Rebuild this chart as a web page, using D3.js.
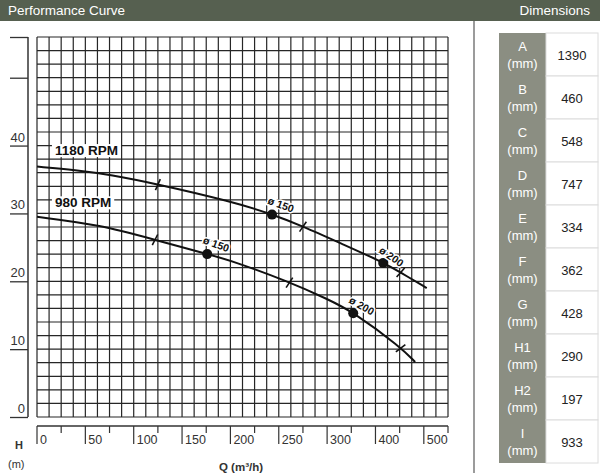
<!DOCTYPE html>
<html>
<head>
<meta charset="utf-8">
<script src="https://cdn.jsdelivr.net/npm/d3@7"></script>
<style>
  body { margin: 0; background: #fff; font-family: "Liberation Sans", Arial, sans-serif; }
  svg { display: block; }
</style>
</head>
<body>
<div id="chart"></div>
<script>
  // x values are grid positions (the printed axis jumps 300 -> 400 -> 500)
  const xTickValues = [0, 50, 100, 150, 200, 250, 300, 350, 400];
  const xTickLabels = ["0", "50", "100", "150", "200", "250", "300", "400", "500"];
  const yTickValues = [0, 10, 20, 30, 40];

  const rpm1180 = [[0, 36.9], [40, 36.4], [76, 35.7], [125, 34.3], [200, 31.8], [243, 29.9],
                   [275, 28.1], [314, 25.6], [358, 22.8], [376, 21.3], [403, 19.0]];
  const rpm980 = [[0, 29.5], [66, 28.3], [122, 26.1], [176, 24.0], [200, 23.1], [261, 19.9],
                  [300, 17.4], [327, 15.5], [376, 10.3], [391, 8.1]];

  const curveNames = ["1180 RPM", "980 RPM"];
  // points marked with a dot and an impeller diameter label
  const dots1180 = [[243, 29.9, "ø 150"], [358, 22.8, "ø 200"]];
  const dots980 = [[176, 24.0, "ø 150"], [327, 15.5, "ø 200"]];
  // short cross ticks along the curves
  const ticks1180 = [125, 275, 376];
  const ticks980 = [122, 261, 376];

  const dimNames = ["A", "B", "C", "D", "E", "F", "G", "H1", "H2", "I"];
  const dimValues = [1390, 460, 548, 747, 334, 362, 428, 290, 197, 933];

  function draw() {
    const W = 600, H = 473;
    const svg = d3.select("#chart").append("svg").attr("width", W).attr("height", H);

    // header band
    svg.append("rect").attr("x", 0).attr("y", 0).attr("width", W).attr("height", 21).attr("fill", "#566050");
    svg.append("text").attr("x", 8).attr("y", 15).attr("fill", "#fff").attr("font-size", 13.5)
      .text("Performance Curve");
    svg.append("text").attr("x", 590).attr("y", 15).attr("fill", "#fff").attr("font-size", 13.5)
      .attr("text-anchor", "end").text("Dimensions");
    svg.append("line").attr("x1", 474).attr("x2", 474).attr("y1", 21).attr("y2", H)
      .attr("stroke", "#7a7a7a").attr("stroke-width", 1.5);

    const x = d3.scaleLinear().domain([0, 425]).range([37, 448]);
    const y = d3.scaleLinear().domain([0, 56]).range([417, 37]);

    // grid
    const grid = svg.append("g").attr("stroke", "#262626").attr("stroke-width", 1.2);
    grid.selectAll("line.v").data(d3.range(0, 425.1, 12.5)).join("line").attr("class", "v")
      .attr("x1", d => x(d)).attr("x2", d => x(d)).attr("y1", y(56)).attr("y2", y(0));
    grid.selectAll("line.h").data(d3.range(0, 56.1, 2)).join("line").attr("class", "h")
      .attr("x1", x(0)).attr("x2", x(425)).attr("y1", d => y(d)).attr("y2", d => y(d));

    // left axis
    const yAxis = d3.axisLeft(y).tickValues([0, 10, 20, 30, 40, 50, 56]).tickSize(18).tickFormat("");
    const ya = svg.append("g").attr("transform", "translate(28,0)").call(yAxis);
    ya.select(".domain").remove();
    ya.selectAll(".tick line").attr("stroke", "#333").attr("stroke-width", 1.3);
    svg.append("line").attr("x1", 28).attr("x2", 28).attr("y1", y(56)).attr("y2", y(0))
      .attr("stroke", "#333").attr("stroke-width", 1.5);
    svg.append("g").selectAll("text").data(yTickValues).join("text")
      .attr("x", 25).attr("y", d => y(d) - 4).attr("text-anchor", "end")
      .attr("font-size", 13).attr("fill", "#333").text(d => d);

    // bottom axis
    const xa = svg.append("g").attr("transform", "translate(0,426)");
    xa.append("line").attr("x1", x(0)).attr("x2", x(425)).attr("stroke", "#333").attr("stroke-width", 1.3);
    xa.selectAll("line.major").data(xTickValues).join("line").attr("class", "major")
      .attr("x1", d => x(d)).attr("x2", d => x(d)).attr("y1", 0).attr("y2", 18)
      .attr("stroke", "#333").attr("stroke-width", 1.2);
    xa.selectAll("line.minor").data(d3.range(25, 426, 50)).join("line").attr("class", "minor")
      .attr("x1", d => x(d)).attr("x2", d => x(d)).attr("y1", 0).attr("y2", 7)
      .attr("stroke", "#333").attr("stroke-width", 1.2);
    xa.selectAll("text").data(xTickValues).join("text")
      .attr("x", d => x(d) + 3).attr("y", 18).attr("font-size", 12.5).attr("fill", "#333")
      .text((d, i) => xTickLabels[i]);

    svg.append("text").attr("x", 15).attr("y", 449).attr("font-size", 11).attr("font-weight", "bold")
      .attr("fill", "#333").text("H");
    svg.append("text").attr("x", 8).attr("y", 468).attr("font-size", 11).attr("fill", "#333").text("(m)");
    svg.append("text").attr("x", 241).attr("y", 471).attr("font-size", 11.5).attr("font-weight", "bold")
      .attr("text-anchor", "middle").attr("fill", "#333").text("Q (m³/h)");

    // curves
    const line = d3.line().x(d => x(d[0])).y(d => y(d[1])).curve(d3.curveBasis);
    const curves = [rpm1180, rpm980];
    const curveTicks = [ticks1180, ticks980];
    const curveDots = [dots1180, dots980];
    const labelRot = [[20, 35], [20, 30]];

    curves.forEach((data, ci) => {
      const path = svg.append("path").datum(data).attr("d", line)
        .attr("fill", "none").attr("stroke", "#111").attr("stroke-width", 2);
      const node = path.node();
      const len = node.getTotalLength();
      // find point on path for a given x position
      function pointAt(q) {
        const px = x(q);
        let lo = 0, hi = len;
        for (let k = 0; k < 30; k++) {
          const mid = (lo + hi) / 2;
          if (node.getPointAtLength(mid).x < px) lo = mid; else hi = mid;
        }
        const p = node.getPointAtLength(lo);
        const p2 = node.getPointAtLength(Math.min(len, lo + 2));
        return { x: p.x, y: p.y, a: Math.atan2(p2.y - p.y, p2.x - p.x) };
      }
      curveTicks[ci].forEach(q => {
        const p = pointAt(q);
        const n = p.a + Math.PI / 2 + 0.2;
        svg.append("line")
          .attr("x1", p.x - 6 * Math.cos(n)).attr("y1", p.y - 6 * Math.sin(n))
          .attr("x2", p.x + 6 * Math.cos(n)).attr("y2", p.y + 6 * Math.sin(n))
          .attr("stroke", "#111").attr("stroke-width", 1.6);
      });
      curveDots[ci].forEach((d, j) => {
        const p = pointAt(d[0]);
        svg.append("circle").attr("cx", p.x).attr("cy", p.y).attr("r", 5).attr("fill", "#111");
        svg.append("text")
          .attr("transform", `translate(${p.x - 5},${p.y - 11}) rotate(${labelRot[ci][j]})`)
          .attr("font-size", 10.5).attr("font-weight", "bold").attr("fill", "#111")
          .attr("stroke", "#fff").attr("stroke-width", 3).attr("paint-order", "stroke")
          .text(d[2]);
      });
    });

    // RPM labels with white boxes
    const rpmPos = [[2, 38.6], [2, 30.9]];
    curveNames.forEach((name, i) => {
      const t = svg.append("text").attr("x", x(rpmPos[i][0]) + 16).attr("y", y(rpmPos[i][1]))
        .attr("font-size", 13.5).attr("font-weight", "bold").attr("fill", "#111").text(name);
      const b = t.node().getBBox();
      svg.append("rect")
        .attr("x", b.x - 3).attr("y", b.y + 1).attr("width", b.width + 6).attr("height", b.height - 2)
        .attr("fill", "#fff");
      t.raise();
    });

    // dimensions table
    const tbl = svg.append("g");
    const rowH = 43, top = 33, c0 = 499, c1 = 546, c2 = 598;
    tbl.append("rect").attr("x", c0).attr("y", top).attr("width", c1 - c0).attr("height", rowH * 10)
      .attr("fill", "#8b8e82");
    dimNames.forEach((n, i) => {
      const yy = top + i * rowH;
      tbl.append("rect").attr("x", c1).attr("y", yy).attr("width", c2 - c1).attr("height", rowH)
        .attr("fill", "#fff").attr("stroke", "#dcdcdc");
      tbl.append("text").attr("x", (c0 + c1) / 2).attr("y", yy + 18).attr("text-anchor", "middle")
        .attr("font-size", 13).attr("fill", "#fff").text(n);
      tbl.append("text").attr("x", (c0 + c1) / 2).attr("y", yy + 35).attr("text-anchor", "middle")
        .attr("font-size", 13).attr("fill", "#fff").text("(mm)");
      tbl.append("text").attr("x", (c1 + c2) / 2).attr("y", yy + 27).attr("text-anchor", "middle")
        .attr("font-size", 13).attr("fill", "#222").text(dimValues[i]);
    });
  }

  draw();
</script>
</body>
</html>
